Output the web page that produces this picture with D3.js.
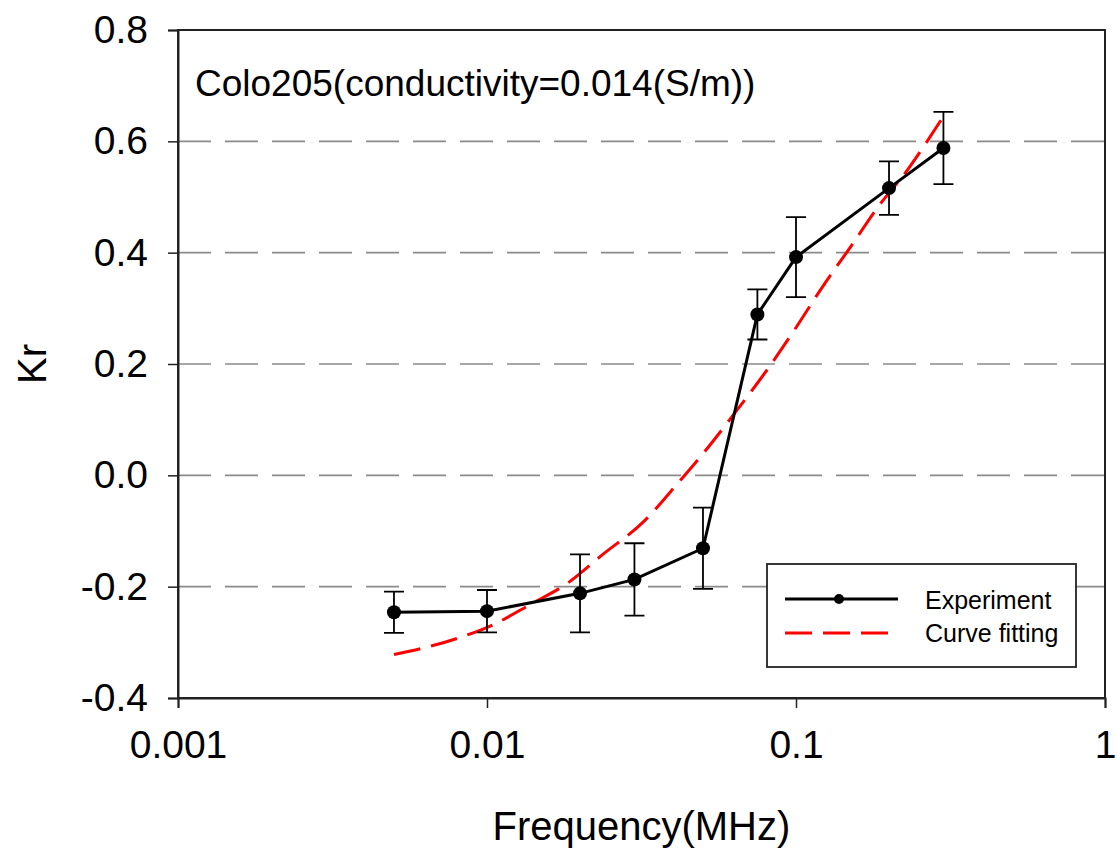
<!DOCTYPE html>
<html>
<head>
<meta charset="utf-8">
<script src="https://cdn.jsdelivr.net/npm/d3@7"></script>
<style>
  body { margin: 0; background: #fff; }
  text { font-family: "Liberation Sans", Arial, sans-serif; }
</style>
</head>
<body>
<svg id="drawing_region"></svg>
<script>
// measured points
const freq   = [0.005, 0.01, 0.02, 0.03, 0.05, 0.075, 0.1, 0.2, 0.3];
const kr     = [-0.246, -0.244, -0.212, -0.187, -0.131, 0.289, 0.392, 0.516, 0.588];
const krErr  = [0.037, 0.038, 0.070, 0.065, 0.073, 0.045, 0.072, 0.048, 0.065];

// fitted curve
const fitFreq = [0.005, 0.008, 0.0105, 0.0138, 0.0182, 0.0237, 0.032, 0.0415, 0.0519, 0.0644, 0.0805, 0.0977, 0.124, 0.15, 0.183, 0.229, 0.3];
const fitKr   = [-0.322, -0.293, -0.268, -0.232, -0.194, -0.142, -0.084, -0.014, 0.05, 0.117, 0.189, 0.257, 0.345, 0.41, 0.48, 0.548, 0.645];

const xTicks = [0.001, 0.01, 0.1, 1];
const xTickLabels = ["0.001", "0.01", "0.1", "1"];
const yTicks = [-0.4, -0.2, 0.0, 0.2, 0.4, 0.6, 0.8];
const gridTicks = [-0.2, 0.0, 0.2, 0.4, 0.6];

const config = {
    width: 1118,
    height: 848,
    margin: {top: 30, right: 13, bottom: 150, left: 178}
};

const svg = d3.select('#drawing_region')
    .attr('width', config.width)
    .attr('height', config.height);

const inner_width = config.width - config.margin.left - config.margin.right;
const inner_height = config.height - config.margin.top - config.margin.bottom;

const chart = svg.append('g')
    .attr('transform', `translate(${config.margin.left}, ${config.margin.top})`);

const xscale = d3.scaleLog()
    .domain([0.001, 1])
    .range([0, inner_width]);

const yscale = d3.scaleLinear()
    .domain([-0.4, 0.8])
    .range([inner_height, 0]);

// grid
chart.selectAll('.grid')
    .data(gridTicks)
    .enter()
    .append('line')
    .attr('x1', 0)
    .attr('x2', inner_width)
    .attr('y1', d => yscale(d))
    .attr('y2', d => yscale(d))
    .attr('stroke', '#8a8a8a')
    .attr('stroke-width', 1.6)
    .attr('stroke-dasharray', '33,14');

// frame
chart.append('rect')
    .attr('x', 0).attr('y', 0)
    .attr('width', inner_width).attr('height', inner_height)
    .attr('fill', 'none')
    .attr('stroke', '#222')
    .attr('stroke-width', 2);

// axes
const xaxis = d3.axisBottom(xscale)
    .tickValues(xTicks)
    .tickFormat((d, i) => xTickLabels[i])
    .tickSize(10)
    .tickPadding(22);

const yaxis = d3.axisLeft(yscale)
    .tickValues(yTicks)
    .tickFormat(d3.format('.1f'))
    .tickSize(10)
    .tickPadding(20);

const xg = chart.append('g')
    .attr('transform', `translate(0, ${inner_height})`)
    .call(xaxis);
const yg = chart.append('g').call(yaxis);

[xg, yg].forEach(g => {
    g.select('.domain').attr('stroke', '#222').attr('stroke-width', 2);
    g.selectAll('.tick line').attr('stroke', '#222').attr('stroke-width', 1.5);
    g.selectAll('.tick text')
        .attr('fill', '#000')
        .style('font-size', '39px')
        .style('font-family', '"Liberation Sans", Arial, sans-serif');
});
yg.selectAll('.tick text').text(d => d < 0 ? '-' + Math.abs(d).toFixed(1) : d.toFixed(1));

// axis labels
svg.append('text')
    .attr('x', config.margin.left + xscale(0.0316))
    .attr('y', 840)
    .attr('text-anchor', 'middle')
    .style('font-size', '40px')
    .text('Frequency(MHz)');

svg.append('text')
    .attr('transform', `translate(46, ${config.margin.top + yscale(0.2)}) rotate(-90)`)
    .attr('text-anchor', 'middle')
    .style('font-size', '40px')
    .text('Kr');

// annotation
chart.append('text')
    .attr('x', 17)
    .attr('y', 66)
    .style('font-size', '37px')
    .text('Colo205(conductivity=0.014(S/m))');

// fitted curve
const fitData = fitFreq.map((f, i) => ({x: f, y: fitKr[i]}));
const fitLine = d3.line()
    .x(d => xscale(d.x))
    .y(d => yscale(d.y))
    .curve(d3.curveMonotoneX);

chart.append('path')
    .datum(fitData)
    .attr('d', fitLine)
    .attr('fill', 'none')
    .attr('stroke', '#ff0000')
    .attr('stroke-width', 3)
    .attr('stroke-dasharray', '27,11');

// experiment
const expData = freq.map((f, i) => ({x: f, y: kr[i], e: krErr[i]}));

chart.selectAll('.err')
    .data(expData)
    .enter()
    .append('path')
    .attr('d', d => {
        const x = xscale(d.x), y1 = yscale(d.y + d.e), y2 = yscale(d.y - d.e);
        return `M${x - 10},${y1}H${x + 10}M${x},${y1}V${y2}M${x - 10},${y2}H${x + 10}`;
    })
    .attr('fill', 'none')
    .attr('stroke', '#000')
    .attr('stroke-width', 1.8);

chart.append('path')
    .datum(expData)
    .attr('d', d3.line().x(d => xscale(d.x)).y(d => yscale(d.y)))
    .attr('fill', 'none')
    .attr('stroke', '#000')
    .attr('stroke-width', 3);

chart.selectAll('.pt')
    .data(expData)
    .enter()
    .append('circle')
    .attr('cx', d => xscale(d.x))
    .attr('cy', d => yscale(d.y))
    .attr('r', 7)
    .attr('fill', '#000');

// legend
const legend = svg.append('g').attr('transform', 'translate(767, 564)');
legend.append('rect')
    .attr('width', 309).attr('height', 103)
    .attr('fill', '#fff')
    .attr('stroke', '#222')
    .attr('stroke-width', 1.8);
legend.append('line')
    .attr('x1', 18).attr('x2', 131).attr('y1', 35).attr('y2', 35)
    .attr('stroke', '#000').attr('stroke-width', 3);
legend.append('circle')
    .attr('cx', 72).attr('cy', 35).attr('r', 5).attr('fill', '#000');
legend.append('line')
    .attr('x1', 18).attr('x2', 131).attr('y1', 69).attr('y2', 69)
    .attr('stroke', '#ff0000').attr('stroke-width', 3)
    .attr('stroke-dasharray', '27,11');
legend.append('text')
    .attr('x', 158).attr('y', 45)
    .style('font-size', '25px')
    .text('Experiment');
legend.append('text')
    .attr('x', 158).attr('y', 78)
    .style('font-size', '25px')
    .text('Curve fitting');
</script>
</body>
</html>
